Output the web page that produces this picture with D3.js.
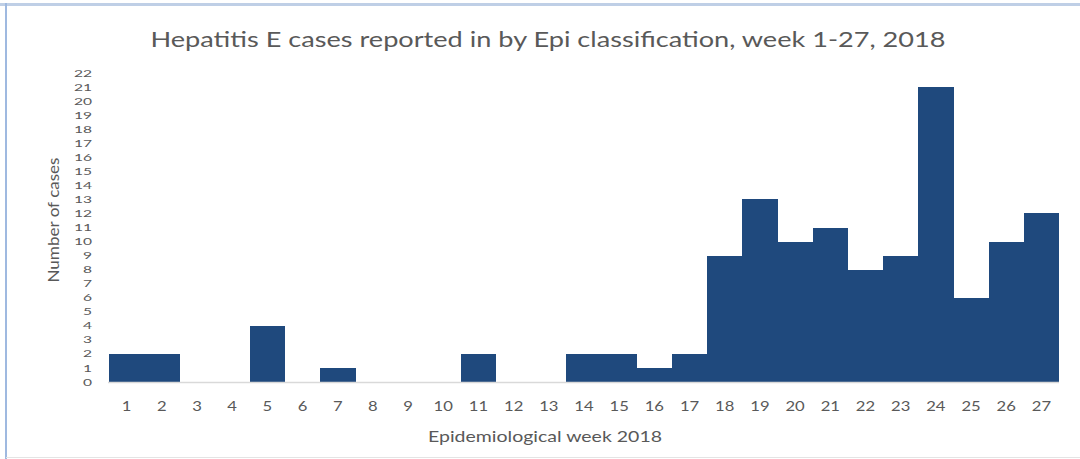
<!DOCTYPE html>
<html><head><meta charset="utf-8">
<script src="https://cdn.jsdelivr.net/npm/d3@7"></script>
<style>body{margin:0;background:#fff}svg{display:block}text{font-family:Lato,"Open Sans",sans-serif}</style>
</head><body><svg id="c" width="1080" height="459"></svg>
<script>
const weeks = d3.range(1, 28).map(String);
const cases = [2,2,0,0,4,0,1,0,0,0,2,0,0,2,2,1,2,9,13,10,11,8,9,21,6,10,12];
const yTicks = d3.range(0, 23);
const title = "Hepatitis E cases reported in by Epi classification, week 1-27, 2018";
const xTitle = "Epidemiological week 2018";
const yTitle = "Number of cases";

const svg = d3.select("#c");
const m = {left:109, right:1059, top:73, bottom:382};
const x = d3.scaleBand().domain(weeks).range([m.left, m.right]).padding(0);
const y = d3.scaleLinear().domain([0, 22]).range([m.bottom, m.top]);
const SX = 1.28; // horizontal stretch seen in the reference

// frame
svg.append("line").attr("x1",0).attr("x2",1080).attr("y1",4.5).attr("y2",4.5).attr("stroke","#bfcfe6").attr("stroke-width",3);
svg.append("line").attr("x1",6).attr("x2",6).attr("y1",3).attr("y2",459).attr("stroke","#9fb9e0").attr("stroke-width",2);
svg.append("line").attr("x1",6).attr("x2",1080).attr("y1",457.5).attr("y2",457.5).attr("stroke","#e4e4e4").attr("stroke-width",1);

svg.append("text").attr("x",548).attr("y",47).attr("text-anchor","middle")
  .attr("font-size",21).attr("fill","#595959")
  .attr("textLength",795).attr("lengthAdjust","spacingAndGlyphs").text(title);

svg.append("g").selectAll("rect").data(cases).join("rect")
  .attr("x",(d,i)=>x(weeks[i])).attr("width",x.bandwidth()+0.4)
  .attr("y",d=>y(d)).attr("height",d=>y(0)-y(d)).attr("fill","#1f497d")
  .attr("shape-rendering","crispEdges");

svg.append("line").attr("x1",m.left-1).attr("x2",m.right).attr("y1",y(0)+0.5).attr("y2",y(0)+0.5)
  .attr("stroke","#d9d9d9").attr("stroke-width",1.5);

const xa = svg.append("g").attr("transform",`translate(0,${y(0)})`)
  .call(d3.axisBottom(x).tickSize(0).tickPadding(20));
xa.select(".domain").remove();
xa.selectAll(".tick text").attr("font-size",13).attr("fill","#595959").attr("font-family","Lato")
  .attr("transform",`scale(${SX},1)`);

const ya = svg.append("g").attr("transform",`translate(${m.left-17},0)`)
  .call(d3.axisLeft(y).tickValues(yTicks).tickSize(0).tickPadding(0));
ya.select(".domain").remove();
ya.selectAll(".tick text").attr("font-size",13).attr("fill","#595959").attr("font-family","Lato")
  .attr("x",0).attr("y",0).attr("dy","0.32em").attr("transform","scale(1.2,0.74)");

svg.append("text").attr("transform","translate(59,220) rotate(-90)").attr("text-anchor","middle")
  .attr("font-size",15).attr("fill","#595959")
  .attr("textLength",125).attr("lengthAdjust","spacingAndGlyphs").text(yTitle);
svg.append("text").attr("x",545).attr("y",442).attr("text-anchor","middle")
  .attr("font-size",15).attr("fill","#595959")
  .attr("textLength",234).attr("lengthAdjust","spacingAndGlyphs").text(xTitle);
</script></body></html>
